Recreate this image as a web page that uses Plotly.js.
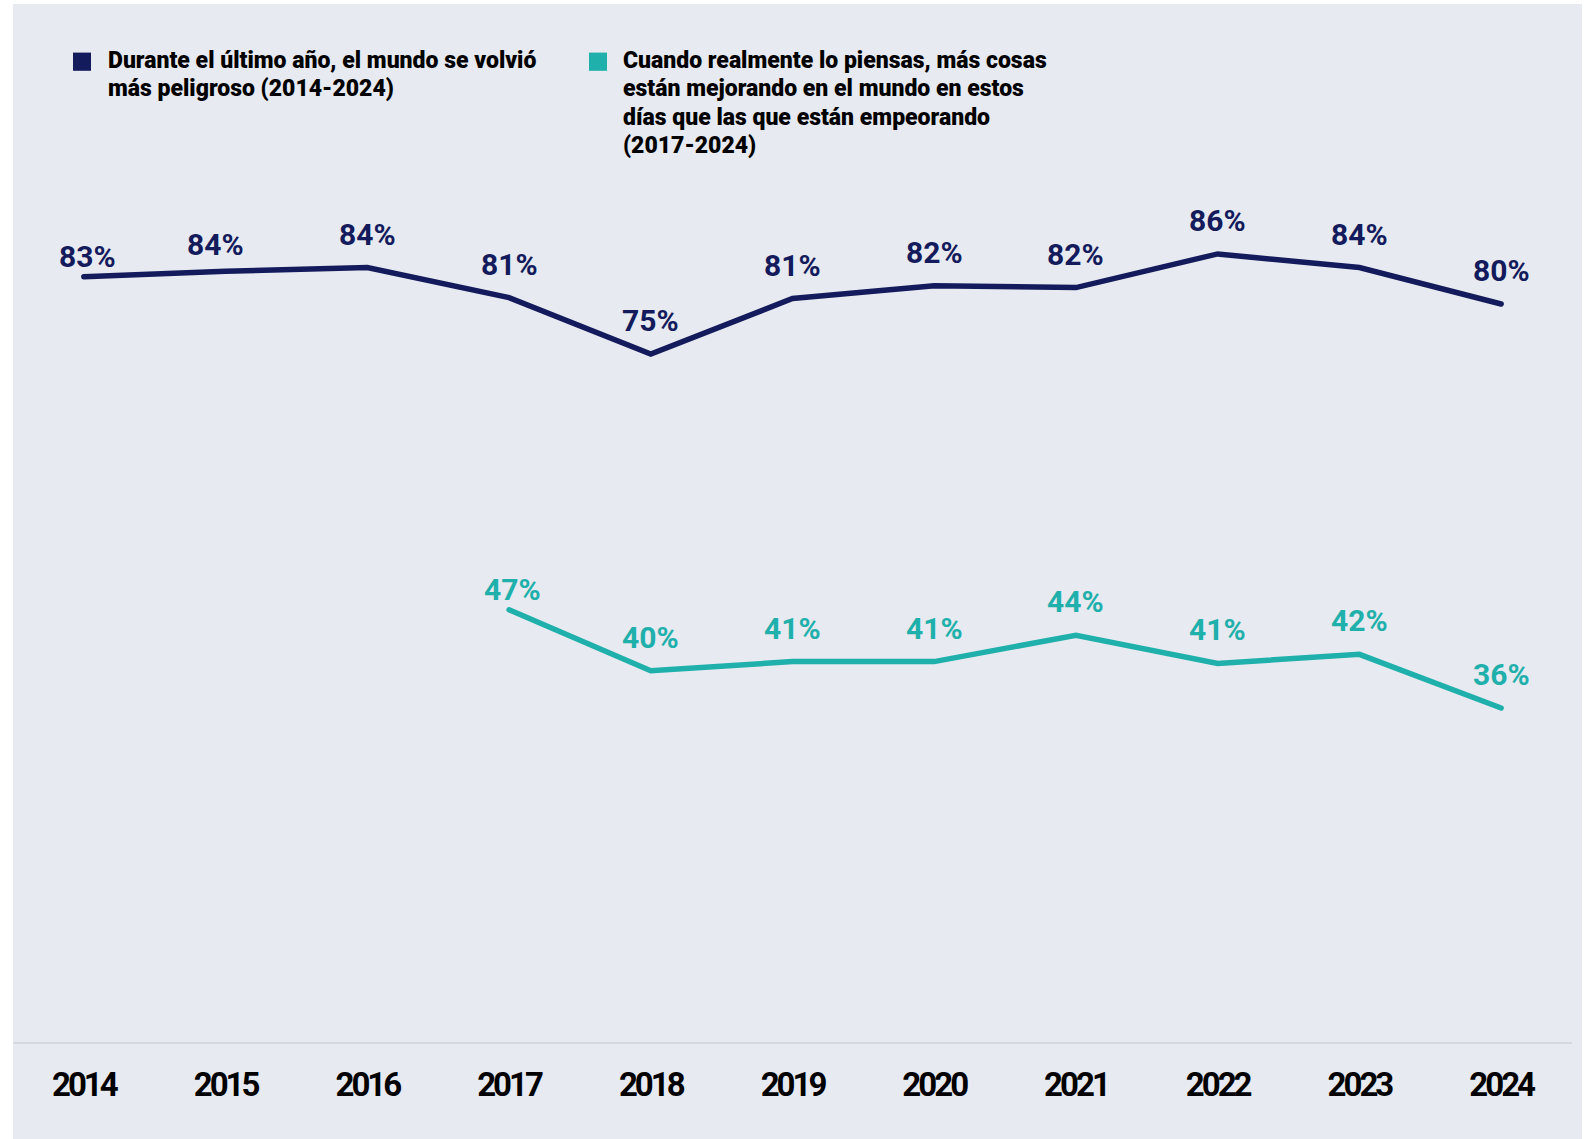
<!DOCTYPE html>
<html>
<head>
<meta charset="utf-8">
<script src="https://cdn.plot.ly/plotly-3.0.1.min.js"></script>
<style>
  html, body { margin: 0; padding: 0; background: #ffffff; width: 1586px; height: 1139px; overflow: hidden; }
  #chart { position: absolute; left: 13px; top: 4px; width: 1569px; height: 1135px; }
  #chart .xtick text { letter-spacing: -3px; }
  #chart .scatterlayer path.js-line { stroke-linecap: round; }
</style>
</head>
<body>
<div id="chart"></div>
<script>
// ---- data ----
const years = [2014, 2015, 2016, 2017, 2018, 2019, 2020, 2021, 2022, 2023, 2024];
const yearLabels = ["2014", "2015", "2016", "2017", "2018", "2019", "2020", "2021", "2022", "2023", "2024"];
const dangerYears = [2014, 2015, 2016, 2017, 2018, 2019, 2020, 2021, 2022, 2023, 2024];
const dangerValues = [83.4, 84.0, 84.4, 81.1, 74.9, 81.0, 82.4, 82.2, 85.9, 84.4, 80.4];
const betterYears = [2017, 2018, 2019, 2020, 2021, 2022, 2023, 2024];
const betterValues = [46.8, 40.1, 41.1, 41.1, 44.0, 40.9, 41.9, 36.0];
const legendDanger = ["Durante el último año, el mundo se volvió", "más peligroso (2014-2024)"];
const legendBetter = ["Cuando realmente lo piensas, más cosas", "están mejorando en el mundo en estos", "días que las que están empeorando", "(2017-2024)"];

// ---- styles ----
const NAVY = "#131b5c";
const TEAL = "#1fb0ab";
const BG = "#e7eaf0";
const FONT = "Roboto, sans-serif";

// pixel -> paper helpers (page pixels; plot area 13..1572 x 132..1042)
const PL = 13, PW = 1559, PB = 1042, PH = 910;
const px = v => (v - PL) / PW;
const py = v => (PB - v) / PH;

const traces = [
  { x: dangerYears, y: dangerValues, type: "scatter", mode: "lines",
    line: { color: NAVY, width: 5.5 }, hoverinfo: "skip", showlegend: false },
  { x: betterYears, y: betterValues, type: "scatter", mode: "lines",
    line: { color: TEAL, width: 5.5 }, hoverinfo: "skip", showlegend: false }
];

// label offsets (style): default above the point
const dangerShift = dangerValues.map((v, i) => i === 0 ? {x: 4, y: 20} : i === 1 ? {x: -10, y: 26.5} : {x: 0, y: 33.5});
const betterShift = betterValues.map((v, i) => i === 0 ? {x: 3, y: 20} : {x: 0, y: 33.5});

const annotations = [];
dangerValues.forEach((v, i) => annotations.push({
  x: dangerYears[i], y: v, xref: "x", yref: "y", text: Math.round(v) + "%", showarrow: false,
  xshift: dangerShift[i].x, yshift: dangerShift[i].y, xanchor: "center", yanchor: "middle",
  font: { family: FONT, size: 30, color: NAVY, weight: 700 }
}));
betterValues.forEach((v, i) => annotations.push({
  x: betterYears[i], y: v, xref: "x", yref: "y", text: Math.round(v) + "%", showarrow: false,
  xshift: betterShift[i].x, yshift: betterShift[i].y, xanchor: "center", yanchor: "middle",
  font: { family: FONT, size: 30, color: TEAL, weight: 700 }
}));
legendDanger.forEach((t, i) => annotations.push({
  x: px(105.5), y: py(60.7 + 28.3 * i), xref: "paper", yref: "paper", text: t, showarrow: false,
  xanchor: "left", yanchor: "middle", align: "left",
  font: { family: FONT, size: 23, color: "#000000", weight: 900 }
}));
legendBetter.forEach((t, i) => annotations.push({
  x: px(620.5), y: py(60.7 + 28.3 * i), xref: "paper", yref: "paper", text: t, showarrow: false,
  xanchor: "left", yanchor: "middle", align: "left",
  font: { family: FONT, size: 23, color: "#000000", weight: 900 }
}));

const shapes = [
  { type: "rect", xref: "paper", yref: "paper", x0: px(73), x1: px(91), y0: py(70.8), y1: py(52.6),
    fillcolor: NAVY, line: { width: 0 } },
  { type: "rect", xref: "paper", yref: "paper", x0: px(589), x1: px(607), y0: py(70.8), y1: py(52.6),
    fillcolor: TEAL, line: { width: 0 } }
];

const layout = {
  width: 1569, height: 1135,
  margin: { l: 0, r: 10, t: 128, b: 97, pad: 0 },
  paper_bgcolor: BG, plot_bgcolor: BG,
  showlegend: false,
  xaxis: {
    type: "linear", range: [2013.5, 2024.5], tickvals: years, ticktext: yearLabels,
    showgrid: false, zeroline: false, showline: true, linecolor: "#d5d8dd", linewidth: 2,
    ticks: "", ticklabelstandoff: 12, fixedrange: true,
    tickfont: { family: FONT, size: 33, color: "#000000", weight: 700 }
  },
  yaxis: { range: [-0.7, 99.3], visible: false, showgrid: false, zeroline: false, fixedrange: true },
  annotations: annotations,
  shapes: shapes
};

Plotly.newPlot("chart", traces, layout, { staticPlot: true, displayModeBar: false });
</script>
</body>
</html>
